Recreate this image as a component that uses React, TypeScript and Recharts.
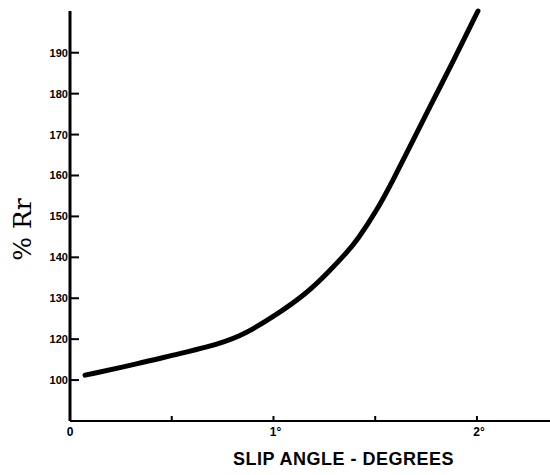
import React from "react";
import { LineChart, Line, XAxis, YAxis } from "recharts";

const slipAngle = [0.074, 0.344, 0.506, 0.673, 0.835, 0.998, 1.165, 1.278, 1.361, 1.41, 1.509, 1.587, 1.661, 1.784, 1.867, 2.005];
const percentRr = [111.2, 114.1, 116.1, 118.0, 120.5, 125.4, 131.2, 136.8, 141.2, 144.1, 151.5, 158.8, 166.1, 178.3, 186.3, 200.2];

const xTicks = [0, 0.5, 1, 1.5, 2];
const xTickLabels = ["0", "", "1°", "", "2°"];
const yTicks = [110, 120, 130, 140, 150, 160, 170, 180, 190];
const yTickLabels = ["100", "120", "130", "140", "150", "160", "170", "180", "190"];

const data = slipAngle.map((x, i) => ({ x, y: percentRr[i] }));

const tickFont = "Liberation Sans, Arial, sans-serif";

const XTick = (props: any) => {
  const { x, y, payload } = props;
  const idx = xTicks.indexOf(payload.value);
  const label = idx >= 0 ? xTickLabels[idx] : "";
  return (
    <g>
      {payload.value !== 0 && (
        <line x1={x} y1={y} x2={x} y2={y - 5} stroke="#000" strokeWidth={2} />
      )}
      <text
        x={x + (label.length > 1 ? 2 : 0)}
        y={y + 15}
        textAnchor="middle"
        fontFamily={tickFont}
        fontWeight="bold"
        fontSize={12}
        fill="#000"
      >
        {label}
      </text>
    </g>
  );
};

const YTick = (props: any) => {
  const { x, y, payload } = props;
  const idx = yTicks.indexOf(payload.value);
  const label = idx >= 0 ? yTickLabels[idx] : "";
  return (
    <g>
      <line x1={x} y1={y} x2={x + 9} y2={y} stroke="#000" strokeWidth={2} />
      <text
        x={x - 2}
        y={y + 4}
        textAnchor="end"
        fontFamily={tickFont}
        fontWeight="bold"
        fontSize={11}
        fill="#000"
      >
        {label}
      </text>
    </g>
  );
};

export default function App() {
  return (
    <div style={{ position: "absolute", left: 0, top: 0, width: 550, height: 475, background: "#fff" }}>
      <LineChart
        width={550}
        height={475}
        data={data}
        margin={{ top: 11, right: 0, left: 8, bottom: 0 }}
      >
        <XAxis
          dataKey="x"
          type="number"
          domain={[0, 2.359]}
          ticks={xTicks}
          interval={0}
          height={54}
          tickSize={0.01}
          tickMargin={0.01}
          tickLine={false}
          axisLine={{ stroke: "#000", strokeWidth: 2 }}
          tick={XTick}
        />
        <YAxis
          type="number"
          domain={[100, 200]}
          ticks={yTicks}
          interval={0}
          width={62}
          tickSize={0.01}
          tickMargin={0.01}
          tickLine={false}
          axisLine={{ stroke: "#000", strokeWidth: 3 }}
          tick={YTick}
        />
        <Line
          dataKey="y"
          type="basis"
          stroke="#000"
          strokeWidth={5}
          strokeLinecap="round"
          dot={false}
          activeDot={false}
          isAnimationActive={false}
        />
      </LineChart>
      <svg
        width={550}
        height={475}
        style={{ position: "absolute", left: 0, top: 0, pointerEvents: "none" }}
      >
        <text
          x={31}
          y={229.5}
          transform="rotate(-90 31 229.5)"
          textAnchor="middle"
          fontFamily="DejaVu Serif, serif"
          fontSize={25}
          fill="#000"
        >
          % Rr
        </text>
        <text
          x={343.5}
          y={465}
          textAnchor="middle"
          fontFamily={tickFont}
          fontWeight="bold"
          fontSize={18}
          letterSpacing={0.5}
          fill="#000"
        >
          SLIP ANGLE - DEGREES
        </text>
      </svg>
    </div>
  );
}
